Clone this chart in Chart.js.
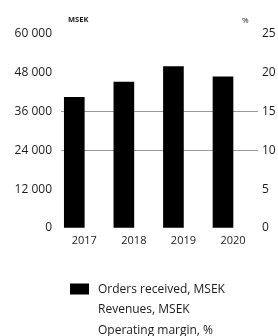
<!DOCTYPE html>
<html lang="en">
<head>
    <meta charset="UTF-8">
    <title>Orders received</title>
    <script src="https://cdn.jsdelivr.net/npm/chart.js"></script>
    <style>
        body {
            margin: 0;
            background: #fff;
        }
        .chart-container {
            position: relative;
            width: 278px;
            height: 336px;
        }
    </style>
</head>
<body>
    <div class="chart-container">
        <canvas id="ordersChart"></canvas>
    </div>

    <script>
        const years = [2017, 2018, 2019, 2020];
        const ordersReceived = [40300, 45000, 49800, 46600];
        const revenues = [];
        const operatingMargin = [];
        const msekTicks = [0, 12000, 24000, 36000, 48000, 60000];
        const marginTicks = [0, 5, 10, 15, 20, 25];
        const leftUnit = 'MSEK';
        const rightUnit = '%';

        const FONT = "'Open Sans', 'Noto Sans', sans-serif";
        const TEXT = '#1a1a1a';

        function spaced(v) {
            return String(v).replace(/\B(?=(\d{3})+(?!\d))/g, ' ');
        }

        // unit captions above the two value axes + the stacked legend
        const extras = {
            id: 'extras',
            afterDraw(chart) {
                const ctx = chart.ctx;
                ctx.save();
                ctx.fillStyle = TEXT;
                ctx.textBaseline = 'middle';
                ctx.textAlign = 'left';
                ctx.font = 'bold 7.5px ' + FONT;
                ctx.fillText(leftUnit, 68, 20);
                ctx.font = '8px ' + FONT;
                ctx.fillText(rightUnit, 242, 21);

                ctx.font = '12px ' + FONT;
                chart.data.datasets.forEach((ds, i) => {
                    const y = 289.5 + i * 20.5;
                    if (ds.backgroundColor !== 'transparent') {
                        ctx.fillStyle = ds.backgroundColor;
                        ctx.fillRect(70, y - 6, 19, 11);
                    }
                    ctx.fillStyle = TEXT;
                    ctx.fillText(ds.label, 98, y);
                });
                ctx.restore();
            }
        };

        const ctx = document.getElementById('ordersChart').getContext('2d');
        new Chart(ctx, {
            type: 'bar',
            data: {
                datasets: [
                    {
                        label: 'Orders received, MSEK',
                        data: years.map((y, i) => ({ x: y, y: ordersReceived[i] })),
                        backgroundColor: '#000',
                        barThickness: 20,
                        yAxisID: 'y'
                    },
                    {
                        type: 'line',
                        label: 'Revenues, MSEK',
                        data: revenues,
                        backgroundColor: 'transparent',
                        borderColor: 'transparent',
                        yAxisID: 'y'
                    },
                    {
                        type: 'line',
                        label: 'Operating margin, %',
                        data: operatingMargin,
                        backgroundColor: 'transparent',
                        borderColor: 'transparent',
                        yAxisID: 'y1'
                    }
                ]
            },
            options: {
                responsive: true,
                maintainAspectRatio: false,
                animation: false,
                layout: { padding: { top: 33.5, left: 0, right: 0, bottom: 0 } },
                plugins: {
                    legend: { display: false },
                    tooltip: { enabled: false }
                },
                scales: {
                    x: {
                        type: 'linear',
                        bounds: 'data',
                        offset: false,
                        min: 2016.732,
                        max: 2020.706,
                        afterBuildTicks: axis => { axis.ticks = years.map(v => ({ value: v })); },
                        afterFit: axis => { axis.height = 108; },
                        grid: { display: false, drawTicks: false },
                        border: { display: false },
                        ticks: {
                            callback: v => String(v),
                            labelOffset: 10,
                            padding: 6,
                            color: TEXT,
                            font: { family: FONT, size: 11 }
                        }
                    },
                    y: {
                        position: 'left',
                        min: 0,
                        max: 60000,
                        afterBuildTicks: axis => { axis.ticks = msekTicks.map(v => ({ value: v })); },
                        afterFit: axis => { axis.width = 61; },
                        grid: {
                            drawTicks: false,
                            color: c => (c.tick.value === 24000 || c.tick.value === 36000) ? '#999' : 'transparent'
                        },
                        border: { display: false },
                        ticks: {
                            callback: v => spaced(v),
                            padding: 9,
                            color: TEXT,
                            font: { family: FONT, size: 12 }
                        }
                    },
                    y1: {
                        position: 'right',
                        min: 0,
                        max: 25,
                        afterBuildTicks: axis => { axis.ticks = marginTicks.map(v => ({ value: v })); },
                        afterFit: axis => { axis.width = 20; },
                        grid: { display: false, drawTicks: false },
                        border: { display: false },
                        ticks: {
                            padding: 4,
                            color: TEXT,
                            font: { family: FONT, size: 12 }
                        }
                    }
                }
            },
            plugins: [extras]
        });
    </script>
</body>
</html>
